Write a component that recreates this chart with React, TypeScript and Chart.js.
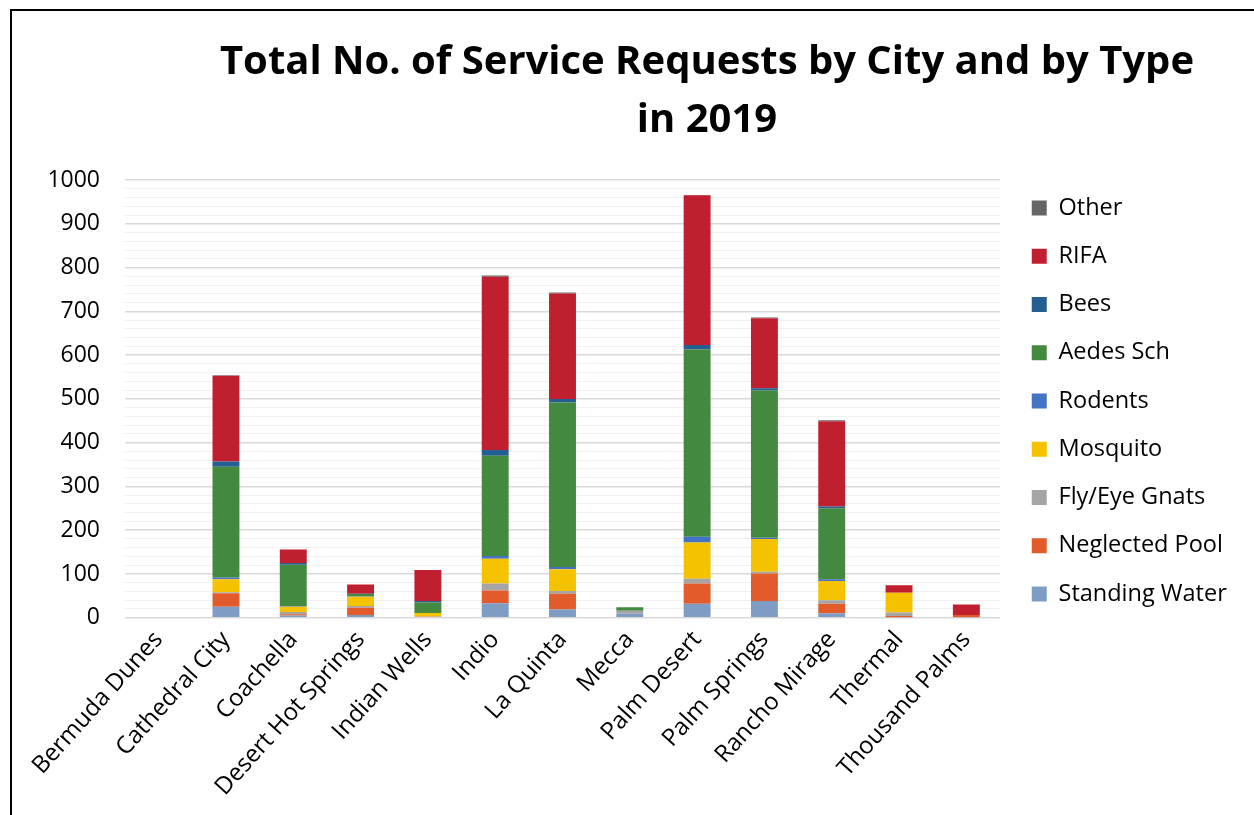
import React, { useEffect, useRef } from "react";
import { Chart, registerables } from "chart.js";

Chart.register(...registerables);

const TITLE_LINES = ["Total No. of Service Requests by City and by Type", "in 2019"];

const CITIES = [
  "Bermuda Dunes",
  "Cathedral City",
  "Coachella",
  "Desert Hot Springs",
  "Indian Wells",
  "Indio",
  "La Quinta",
  "Mecca",
  "Palm Desert",
  "Palm Springs",
  "Rancho Mirage",
  "Thermal",
  "Thousand Palms",
];

const STANDING_WATER = [0, 25, 5, 6, 0, 33, 19, 9, 32, 38, 10, 1, 1];
const NEGLECTED_POOL = [0, 31, 3, 17, 2, 29, 36, 0, 46, 63, 22, 3, 5];
const FLY_EYE_GNATS = [0, 2, 5, 4, 1, 16, 6, 7, 11, 4, 8, 8, 0];
const MOSQUITO = [0, 30, 12, 21, 8, 57, 50, 0, 83, 75, 44, 45, 0];
const RODENTS = [0, 4, 1, 1, 0, 6, 5, 0, 13, 3, 4, 0, 0];
const AEDES_SCH = [0, 253, 95, 5, 24, 229, 376, 8, 428, 336, 162, 0, 0];
const BEES = [0, 12, 4, 1, 3, 13, 8, 0, 10, 5, 4, 0, 0];
const RIFA = [0, 196, 31, 21, 71, 396, 241, 0, 342, 160, 195, 17, 24];
const OTHER = [0, 1, 0, 0, 0, 3, 2, 0, 1, 2, 2, 0, 0];

const SERIES = [
  { label: "Standing Water", data: STANDING_WATER, color: "#7F9CC4" },
  { label: "Neglected Pool", data: NEGLECTED_POOL, color: "#E15B2B" },
  { label: "Fly/Eye Gnats", data: FLY_EYE_GNATS, color: "#A5A5A5" },
  { label: "Mosquito", data: MOSQUITO, color: "#F5C200" },
  { label: "Rodents", data: RODENTS, color: "#4472C4" },
  { label: "Aedes Sch", data: AEDES_SCH, color: "#43893F" },
  { label: "Bees", data: BEES, color: "#255E91" },
  { label: "RIFA", data: RIFA, color: "#C01F2F" },
  { label: "Other", data: OTHER, color: "#666666" },
];

const Y_MAX = 1000;
const Y_MINOR_STEP = 20;
const Y_MAJOR_STEP = 100;

const FONT = '"Open Sans", "Noto Sans", sans-serif';

const titlePlugin = {
  id: "customTitle",
  afterDraw(chart: any) {
    const ctx = chart.ctx;
    ctx.save();
    ctx.font = `bold 40px ${FONT}`;
    ctx.fillStyle = "#000";
    ctx.textAlign = "center";
    ctx.textBaseline = "middle";
    TITLE_LINES.forEach((line, i) => ctx.fillText(line, 707, 63 + i * 58));
    ctx.restore();
  },
};

export default function App() {
  const ref = useRef<HTMLCanvasElement | null>(null);

  useEffect(() => {
    if (!ref.current) return;
    const chart = new Chart(ref.current, {
      type: "bar",
      data: {
        labels: CITIES,
        datasets: SERIES.map((s) => ({
          label: s.label,
          data: s.data,
          backgroundColor: s.color,
          borderWidth: 0,
          barPercentage: 0.4,
          categoryPercentage: 1,
        })),
      },
      plugins: [titlePlugin],
      options: {
        animation: false,
        responsive: false,
        devicePixelRatio: 1,
        layout: { padding: { top: 0, left: 0, right: 17.25, bottom: 13 } },
        plugins: {
          title: {
            display: true,
            text: [" "],
            font: { size: 10, lineHeight: 1 },
            padding: { top: 170, bottom: 0 },
          },
          tooltip: { enabled: false },
          legend: {
            display: true,
            position: "right",
            reverse: true,
            fullSize: true,
            maxWidth: 400,
            labels: {
              boxWidth: 15,
              boxHeight: 15,
              padding: 24.75,
              color: "#000",
              font: { family: FONT, size: 23.5 },
            },
          },
        },
        scales: {
          x: {
            stacked: true,
            grid: { display: false, drawTicks: false },
            border: { display: false },
            ticks: {
              color: "#000",
              font: { family: FONT, size: 24 },
              minRotation: 48,
              maxRotation: 48,
              autoSkip: false,
              padding: 8,
            },
            afterFit: (s: any) => {
              s.height = 184.25;
            },
          },
          y: {
            stacked: true,
            min: 0,
            max: Y_MAX,
            grid: {
              drawTicks: false,
              color: (c: any) => (c.tick && c.tick.value % Y_MAJOR_STEP === 0 ? "#D9D9D9" : "#F0F0F0"),
              lineWidth: (c: any) => (c.tick && c.tick.value % Y_MAJOR_STEP === 0 ? 1.5 : 1),
            },
            border: { display: false },
            ticks: {
              stepSize: Y_MINOR_STEP,
              autoSkip: false,
              color: "#000",
              padding: 25,
              font: { family: FONT, size: 23 },
              callback: (v: any) => (Number(v) % Y_MAJOR_STEP === 0 ? String(v) : ""),
            },
            afterFit: (s: any) => {
              s.width = 125;
            },
          },
          gap: {
            type: "linear",
            position: "right",
            display: true,
            grid: { display: false, drawTicks: false },
            border: { display: false },
            ticks: { display: false },
            afterFit: (s: any) => {
              s.width = 7;
            },
          },
        },
      },
    } as any);
    return () => chart.destroy();
  }, []);

  return (
    <>
      <div style={{ position: "absolute", left: 0, top: 0, width: 1254, height: 815 }}>
        <canvas ref={ref} width={1254} height={815} style={{ display: "block" }} />
      </div>
      <div
        style={{
          position: "absolute",
          left: 10,
          top: 9,
          right: 0,
          bottom: 0,
          borderLeft: "2px solid #000",
          borderTop: "2px solid #000",
          pointerEvents: "none",
        }}
      />
    </>
  );
}
